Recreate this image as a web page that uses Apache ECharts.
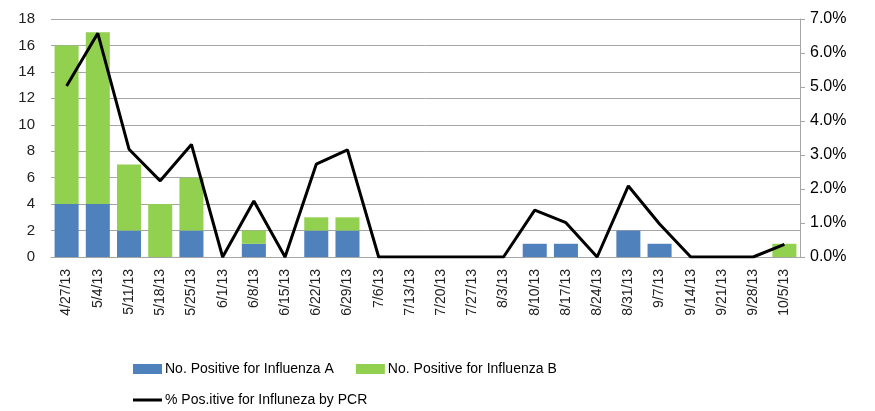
<!DOCTYPE html>
<html>
<head>
<meta charset="utf-8">
<script src="https://cdn.jsdelivr.net/npm/echarts@6/dist/echarts.min.js"></script>
<style>
  html, body { margin: 0; padding: 0; background: #fff; }
  #main { width: 875px; height: 411px; }
</style>
</head>
<body>
<div id="main"></div>
<script>
const weeks = ['4/27/13', '5/4/13', '5/11/13', '5/18/13', '5/25/13', '6/1/13', '6/8/13', '6/15/13',
  '6/22/13', '6/29/13', '7/6/13', '7/13/13', '7/20/13', '7/27/13', '8/3/13', '8/10/13', '8/17/13',
  '8/24/13', '8/31/13', '9/7/13', '9/14/13', '9/21/13', '9/28/13', '10/5/13']
const fluA = [4, 4, 2, 0, 2, 0, 1, 0, 2, 2, 0, 0, 0, 0, 0, 1, 1, 0, 2, 1, 0, 0, 0, 0]
const fluB = [12, 13, 5, 4, 4, 0, 1, 0, 1, 1, 0, 0, 0, 0, 0, 0, 0, 0, 0, 0, 0, 0, 0, 1]
const pctPCR = [5.03, 6.58, 3.17, 2.24, 3.31, 0, 1.65, 0, 2.73, 3.15, 0, 0, 0, 0, 0, 1.38, 1.01, 0, 2.09, 0.97, 0, 0, 0, 0.37]

const font = 'Liberation Sans'
const chart = echarts.init(document.getElementById('main'))

chart.setOption({
  animation: false,
  textStyle: { fontFamily: font },
  grid: { left: 51, right: 75, top: 19, bottom: 154 },
  legend: [
    {
      data: ['No. Positive for Influenza A', 'No. Positive for Influenza B'],
      left: 128, top: 357,
      icon: 'rect', itemWidth: 29, itemHeight: 10, itemGap: 22,
      textStyle: { fontFamily: font, fontSize: 14, color: '#000', padding: [0, 0, 0, -2] }
    },
    {
      data: ['% Pos.itive for Influneza by PCR'],
      left: 128, top: 388,
      icon: 'rect', itemWidth: 29, itemHeight: 3,
      textStyle: { fontFamily: font, fontSize: 14, color: '#000', padding: [0, 0, 0, -2] }
    }
  ],
  xAxis: {
    type: 'category',
    data: weeks,
    axisLine: { lineStyle: { color: '#a6a6a6' } },
    axisTick: { show: false },
    axisLabel: { rotate: 90, interval: 0, fontSize: 14, color: '#222', margin: 12 }
  },
  yAxis: [
    {
      type: 'value', min: 0, max: 18, interval: 2,
      axisLine: { show: false },
      axisTick: { show: false },
      axisLabel: { fontSize: 15, color: '#222', margin: 16 },
      splitLine: { lineStyle: { color: '#a6a6a6' } }
    },
    {
      type: 'value', min: 0, max: 7, interval: 1,
      position: 'right',
      axisLine: { show: true, lineStyle: { color: '#a6a6a6' } },
      axisTick: { show: true, length: 5, lineStyle: { color: '#a6a6a6' } },
      axisLabel: { fontSize: 16, color: '#000', margin: 10, formatter: v => v.toFixed(1) + '%' },
      splitLine: { show: false }
    }
  ],
  series: [
    {
      name: 'No. Positive for Influenza A',
      type: 'bar', stack: 'flu', data: fluA,
      barCategoryGap: '23%',
      itemStyle: { color: '#4f81bd' }
    },
    {
      name: 'No. Positive for Influenza B',
      type: 'bar', stack: 'flu', data: fluB,
      itemStyle: { color: '#92d050' }
    },
    {
      name: '% Pos.itive for Influneza by PCR',
      type: 'line', yAxisIndex: 1, data: pctPCR,
      symbol: 'none',
      lineStyle: { color: '#000', width: 3 },
      itemStyle: { color: '#000' }
    }
  ]
})
</script>
</body>
</html>
